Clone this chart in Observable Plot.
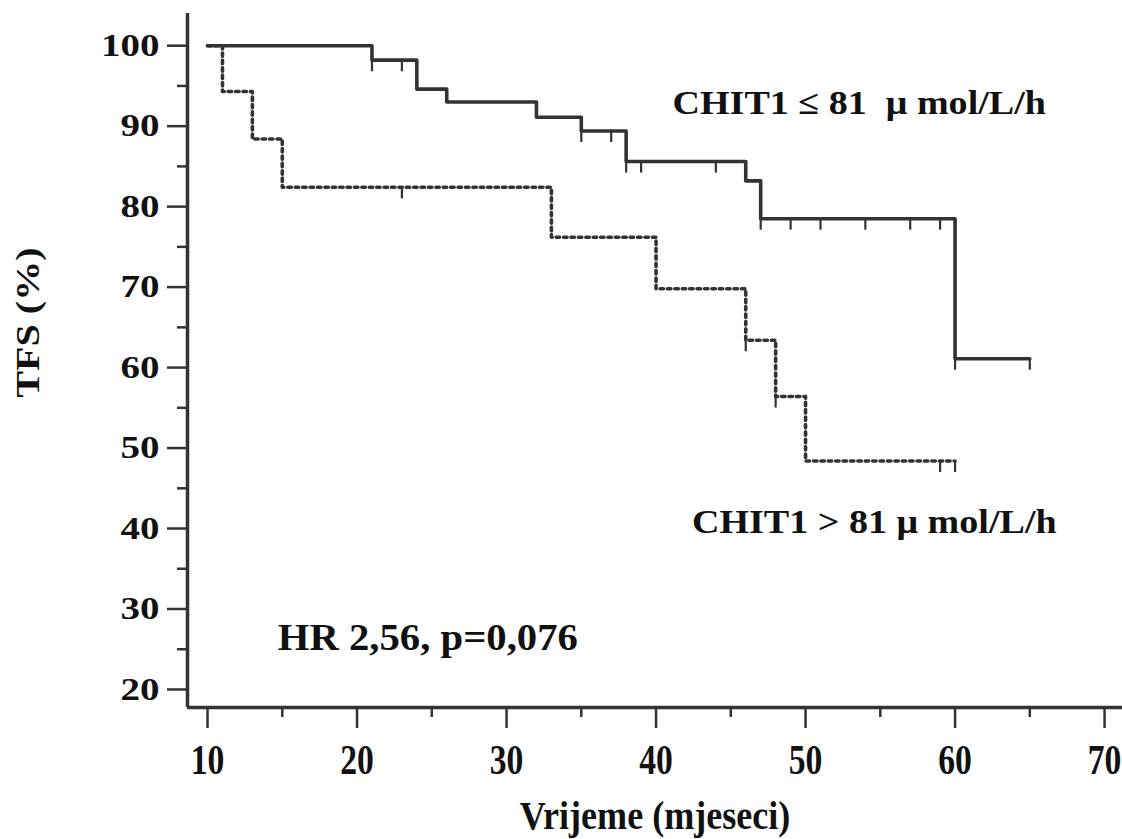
<!DOCTYPE html>
<html>
<head>
<meta charset="utf-8">
<script src="https://cdn.jsdelivr.net/npm/d3@7"></script>
<script src="https://cdn.jsdelivr.net/npm/@observablehq/plot@0.6"></script>
<style>
  html, body { margin: 0; padding: 0; background: #fff; }
  #chart svg { display: block; }
</style>
</head>
<body>
<div id="chart"></div>
<script>
// ---- data ----
const lowTime  = [10, 21, 24, 26, 32, 35, 38, 46, 47, 60, 65];
const lowSurv  = [100, 98.2, 94.6, 93.0, 91.1, 89.4, 85.6, 83.2, 78.5, 61.1, 61.1];
const lowCensTime = [21, 23, 35, 37, 38, 39, 44, 47, 49, 51, 54, 57, 59, 60, 65];
const lowCensSurv = [98.2, 98.2, 89.4, 89.4, 85.6, 85.6, 85.6, 78.5, 78.5, 78.5, 78.5, 78.5, 78.5, 61.1, 61.1];

const highTime = [10, 11, 13, 15, 33, 40, 46, 48, 50, 60];
const highSurv = [100, 94.3, 88.4, 82.4, 76.2, 69.8, 63.4, 56.4, 48.4, 48.4];
const highCensTime = [23, 46, 48, 59, 60];
const highCensSurv = [82.4, 63.4, 56.4, 48.4, 48.4];

const yMajorTicks = [20, 30, 40, 50, 60, 70, 80, 90, 100];
const yMinorTicks = [25, 35, 45, 55, 65, 75, 85, 95];
const xMajorTicks = [10, 20, 30, 40, 50, 60, 70];
const xMinorTicks = [15, 25, 35, 45, 55, 65];

const labelLow  = "CHIT1 \u2264 81  \u03bc mol/L/h";
const labelHigh = "CHIT1 > 81 \u03bc mol/L/h";
const labelHR   = "HR 2,56, p=0,076";
const xLabel = "Vrijeme (mjeseci)";
const yLabel = "TFS (%)";

// annotation anchors in data units
const annCurves = [
  {x: 41.1, y: 91.5, text: labelLow},
  {x: 42.4, y: 39.4, text: labelHigh}
];
const annStats = [{x: 14.7, y: 24.9, text: labelHR}];

const xDomain = [8.66, 71.2];
const yDomain = [17.76, 104];

// ---- build tables ----
const low  = lowTime.map((t, i) => ({t, s: lowSurv[i]}));
const high = highTime.map((t, i) => ({t, s: highSurv[i]}));
const lowC  = lowCensTime.map((t, i) => ({t, s: lowCensSurv[i]}));
const highC = highCensTime.map((t, i) => ({t, s: highCensSurv[i]}));

const censorSymbol = {draw(ctx) { ctx.moveTo(0, 0); ctx.lineTo(0, 11); }};

const ink = "#333";
const font = "'Liberation Serif', 'Times New Roman', serif";

const chart = Plot.plot({
  width: 1122,
  height: 839,
  marginLeft: 187,
  marginRight: 0,
  marginTop: 13,
  marginBottom: 132,
  style: {fontFamily: font, fontWeight: "bold", color: "#111", background: "#fff"},
  x: {domain: xDomain},
  y: {domain: yDomain},
  marks: [
    // axes
    Plot.axisY(yMajorTicks, {tickSize: 20, tickPadding: 8, fontSize: 32, stroke: ink, strokeWidth: 2.5, label: null, tickFormat: d => String(d), fill: "#111"}),
    Plot.axisY(yMinorTicks, {tickSize: 10, text: null, stroke: ink, strokeWidth: 2.5, label: null}),
    Plot.axisX(xMajorTicks, {tickSize: 21, tickPadding: 16, fontSize: 42, stroke: ink, strokeWidth: 2.5, label: null, tickFormat: d => String(d), fill: "#111"}),
    Plot.axisX(xMinorTicks, {tickSize: 10, text: null, stroke: ink, strokeWidth: 2.5, label: null}),
    Plot.ruleX([xDomain[0]], {stroke: ink, strokeWidth: 3.5}),
    Plot.ruleY([yDomain[0]], {stroke: ink, strokeWidth: 3.5}),
    // axis titles
    Plot.text([yLabel], {frameAnchor: "left", dx: -159, dy: -38, rotate: -90, fontSize: 34, textAnchor: "middle", lineAnchor: "middle", fill: "#111"}),
    Plot.text([xLabel], {frameAnchor: "bottom", dy: 121, fontSize: 41, textAnchor: "middle", lineAnchor: "bottom", fill: "#111"}),
    // survival curves
    Plot.line(high, {x: "t", y: "s", curve: "step-after", stroke: ink, strokeWidth: 3.6, strokeDasharray: "3.4,4"}),
    Plot.line(low, {x: "t", y: "s", curve: "step-after", stroke: ink, strokeWidth: 3.6}),
    // censor marks
    Plot.dot(lowC, {x: "t", y: "s", symbol: censorSymbol, stroke: ink, strokeWidth: 2.2, fill: "none"}),
    Plot.dot(highC, {x: "t", y: "s", symbol: censorSymbol, stroke: ink, strokeWidth: 2.2, fill: "none"}),
    // annotations
    Plot.text(annCurves, {x: "x", y: "y", text: "text", fontSize: 34, textAnchor: "start", lineAnchor: "bottom", fill: "#111"}),
    Plot.text(annStats, {x: "x", y: "y", text: "text", fontSize: 37, textAnchor: "start", lineAnchor: "bottom", fill: "#111"})
  ]
});

document.getElementById("chart").appendChild(chart);

// horizontal stretch / compression of the reference lettering
function stretch(els, sx) {
  els.forEach(el => {
    const t = el.getAttribute("transform") || "";
    el.setAttribute("transform", t + ` scale(${sx},1)`);
  });
}
stretch(chart.querySelectorAll('g[aria-label="y-axis tick label"] text'), 1.22);
stretch(chart.querySelectorAll('g[aria-label="x-axis tick label"] text'), 0.8);
const texts = chart.querySelectorAll('g[aria-label="text"]');
// order: yLabel, xLabel, curve labels, stats label
stretch(texts[0].querySelectorAll("text"), 1.18);
stretch(texts[1].querySelectorAll("text"), 0.88);
stretch(texts[2].querySelectorAll("text"), 1.12);
stretch(texts[3].querySelectorAll("text"), 1.1);
</script>
</body>
</html>
